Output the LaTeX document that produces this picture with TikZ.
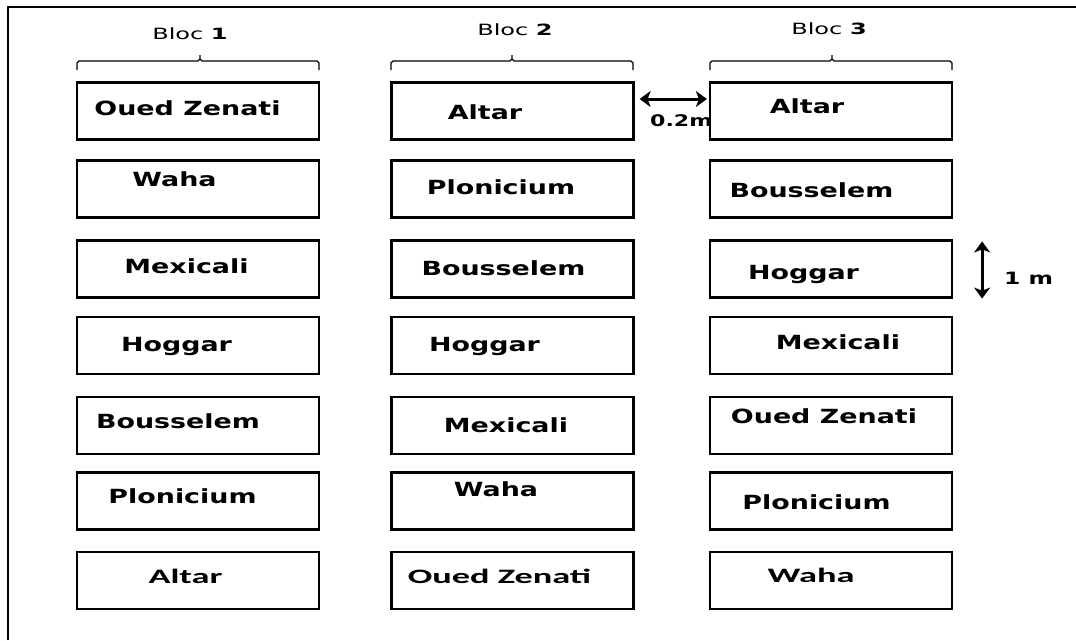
\documentclass[tikz,border=0pt]{standalone}
\usepackage{fontspec}
\usetikzlibrary{arrows.meta}
\newfontfamily\vfont[FakeStretch=1.38]{DejaVu Sans}
\newfontfamily\bfont[FakeStretch=1.55]{DejaVu Sans}
\newfontfamily\cfont[FakeStretch=1.77]{Carlito}
\tikzset{
  plot/.style={draw, line width=2.2pt, fill=white, minimum width=242pt, minimum height=57pt, inner sep=0pt},
  vtxt/.style={anchor=base, inner sep=0pt, font=\vfont\bfseries\fontsize{19.5}{19.5}\selectfont},
  ctxt/.style={anchor=base, inner sep=0pt, font=\cfont\bfseries\fontsize{20.5}{20.5}\selectfont},
  bloc/.style={anchor=base, inner sep=0pt, font=\bfont\fontsize{15.5}{15.5}\selectfont},
  brk/.style={line width=1.1pt},
  dimlbl/.style={anchor=base west, inner sep=0pt, font=\vfont\bfseries\fontsize{16}{16}\selectfont},
  dimarrow/.style={line width=3pt, arrows={Stealth[length=11pt,width=16pt,inset=3pt]-Stealth[length=11pt,width=16pt,inset=3pt]}}
}
\begin{document}
\begin{tikzpicture}[x=1pt,y=-1pt]
\useasboundingbox (0,0) rectangle (1076,640);
\fill[white] (0,0) rectangle (1076,640);
% frame
\draw[line width=2.2pt] (8,640) -- (8,7) -- (1076,7);
% 0.2m label (partly hidden by box)
\node[dimlbl] (l02) at (650,126) {0.2m};
% boxes
\foreach \c/\x in {1/198,2/512.5,3/831}{
  \foreach \r/\y in {1/111,2/189,3/269,4/345.5,5/425.5,6/501,7/580.5}{
    \node[plot] (c\c r\r) at (\x,\y) {};
  }
}
% texts column 1
\node[vtxt] (t11) at (187.5,115) {Oued Zenati};
\node[vtxt] (t12) at (174.5,186) {Waha};
\node[vtxt] (t13) at (186.5,273) {Mexicali};
\node[vtxt] (t14) at (176.5,351) {Hoggar};
\node[vtxt] (t15) at (178,428) {Bousselem};
\node[vtxt] (t16) at (182.5,503) {Plonicium};
\node[ctxt] (t17) at (185.5,583) {Altar};
% texts column 2
\node[vtxt] (t21) at (485,119) {Altar};
\node[vtxt] (t22) at (501,194) {Plonicium};
\node[vtxt] (t23) at (503.5,275) {Bousselem};
\node[vtxt] (t24) at (484.5,351) {Hoggar};
\node[vtxt] (t25) at (506,432) {Mexicali};
\node[vtxt] (t26) at (496,496) {Waha};
\node[ctxt] (t27) at (499.5,583) {Oued Zenati};
% texts column 3
\node[vtxt] (t31) at (807,113) {Altar};
\node[vtxt] (t32) at (811.5,197) {Bousselem};
\node[vtxt] (t33) at (803.5,279) {Hoggar};
\node[vtxt] (t34) at (838,349) {Mexicali};
\node[vtxt] (t35) at (824,423) {Oued Zenati};
\node[vtxt] (t36) at (816.5,509) {Plonicium};
\node[ctxt] (t37) at (811,582) {Waha};
% bloc labels
\node[bloc] (bl1) at (190,39) {Bloc \textbf{1}};
\node[bloc] (bl2) at (515,35) {Bloc \textbf{2}};
\node[bloc] (bl3) at (829,34) {Bloc \textbf{3}};
% brackets
\foreach \a/\m/\b in {77/200/319, 391/512/633, 710/832/952}{
  \draw[brk] (\a,70) -- (\a,63) -- (\a+2,61) -- (\m-2,61) -- (\m,59) -- (\m,55);
  \draw[brk] (\m,59) -- (\m+2,61) -- (\b-2,61) -- (\b,63) -- (\b,70);
}
% dimension arrows
\coordinate (h1) at ([xshift=5pt,yshift=12pt]c2r1.east);
\coordinate (h2) at ([xshift=-2pt,yshift=12pt]c3r1.west);
\coordinate (v1) at ([xshift=29pt,yshift=-2pt]c3r3.north east);
\coordinate (v2) at ([xshift=29pt]c3r3.south east);
\draw[dimarrow] (h1) -- (h2);
\draw[dimarrow] (v1) -- (v2);
\node[dimlbl, font=\vfont\bfseries\fontsize{17}{17}\selectfont] (l1m) at (1004,284) {1 m};
\end{tikzpicture}
\end{document}
